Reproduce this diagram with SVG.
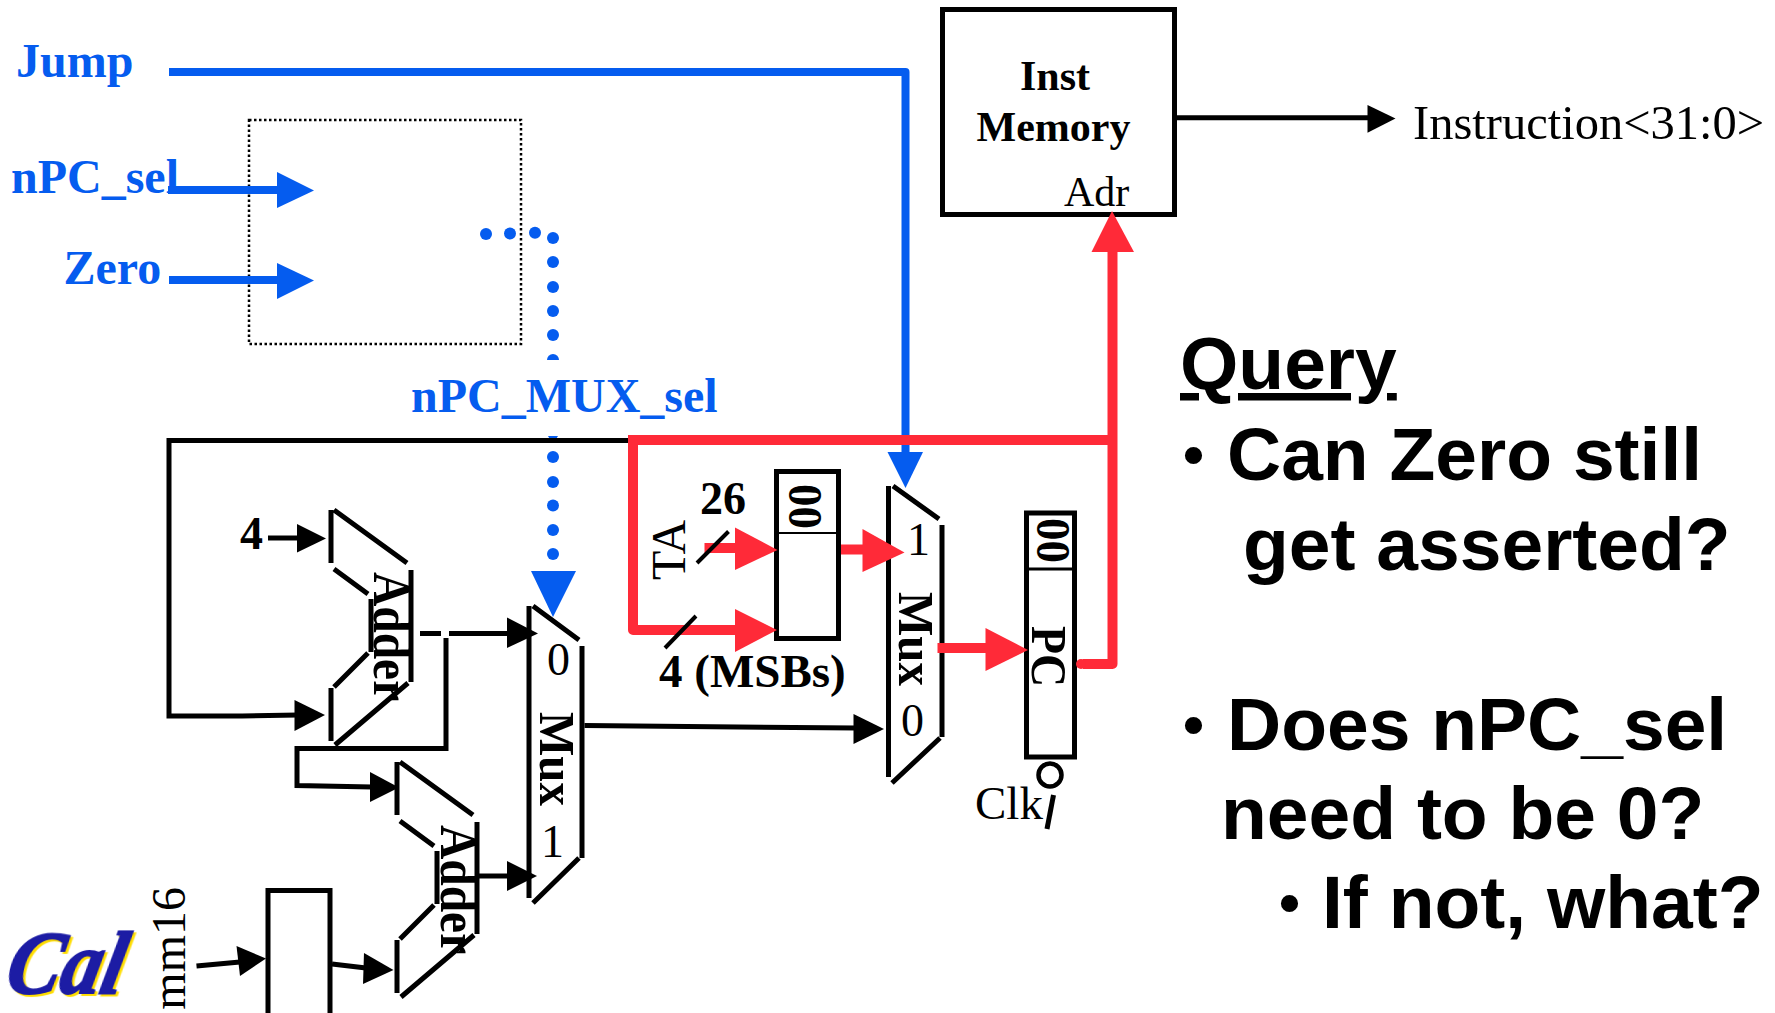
<svg xmlns="http://www.w3.org/2000/svg" width="1775" height="1013" viewBox="0 0 1775 1013">
<style>
text{font-family:"Liberation Serif",serif;fill:#000}
.b{font-weight:700}
.s{font-family:"Liberation Sans",Arial,sans-serif;font-weight:700;font-size:75px}
.pt{font-size:60px}
.blue{fill:#055cef;font-weight:700;font-size:48px}
.n46{font-size:46px}.n47{font-size:47px}.b45{font-weight:700;font-size:45px}.add{font-weight:700;font-size:47.500px}.b42{font-weight:700;font-size:42px}
.w{fill:none;stroke:#000;stroke-width:5}
.t{fill:none;stroke:#000;stroke-width:4}
.bl{fill:none;stroke:#055cef;stroke-width:8;stroke-linejoin:round}
.r{fill:none;stroke:#ff2a38;stroke-width:10;stroke-linejoin:round}
.dots circle{fill:#055cef}
.fb{fill:#055cef}.fr{fill:#ff2a38}.fk{fill:#000}
</style>
<defs>
<path id="adder-shape" class="w" d="M331 510V563M334 510L407 563M411 570V682M334 569L368 594M371 599V652M368 653L334 687M331 688V741M408 683L335 745"/>
</defs>
<g id="control-box"><rect x="249" y="120" width="272" height="224" fill="none" stroke="#000" stroke-width="2.5" stroke-dasharray="2.5 2.5"/></g>
<g id="inst-memory">
<rect x="942.5" y="9.5" width="232" height="205" fill="none" stroke="#000" stroke-width="5"/>
<text class="b42" x="1020" y="90">Inst</text>
<text class="b42" x="976.500" y="141">Memory</text>
<text x="1064" y="206" font-size="42">Adr</text>
</g>
<g id="adder-top">
<use href="#adder-shape"/>
<text class="add" transform="translate(374 572) rotate(90) scale(1 1.1)">Adder</text>
</g>
<g id="adder-bottom">
<use href="#adder-shape" x="66" y="252"/>
<text class="add" transform="translate(441 825) rotate(90) scale(1 1.1)">Adder</text>
</g>
<g id="mux-left">
<path class="w" d="M529 606V898M533 606L579 640M582 646V858M579 858L533 903"/>
<text x="547" y="675" class="n46">0</text>
<text class="b" font-size="47" transform="translate(540 712) rotate(90) scale(1 1.1)">Mux</text>
<text x="541" y="857" class="n46">1</text>
</g>
<g id="mux-right">
<path class="w" d="M888.5 486V777M893 486L939 519M942 525V737M940 738L892 783"/>
<text x="907" y="555" class="n46">1</text>
<text class="b" font-size="47" transform="translate(899 592) rotate(90) scale(1 1.1)">Mux</text>
<text x="901" y="736" class="n46">0</text>
</g>
<g id="concat">
<rect x="776.5" y="471.5" width="62" height="167" fill="none" stroke="#000" stroke-width="5"/>
<path d="M776 533H839" stroke="#000" stroke-width="2"/>
<text class="b45" transform="translate(789 484) rotate(90) scale(1 1.1)">00</text>
</g>
<g id="pc">
<rect x="1026.5" y="513" width="48" height="244" fill="none" stroke="#000" stroke-width="5"/>
<path d="M1027 569H1074" stroke="#000" stroke-width="3"/>
<text class="b45" transform="translate(1037 518) rotate(90) scale(1 1.1)">00</text>
<text class="b" font-size="46" transform="translate(1032 626) rotate(90) scale(1 1.1)">PC</text>
<circle cx="1050" cy="775" r="11.5" fill="none" stroke="#000" stroke-width="4.5"/>
<text x="975" y="819" class="n47">Clk</text>
</g>
<g id="sign-extend"><path class="w" d="M268 1013V890.5H330V1013"/></g>
<g id="connectors">
<path class="bl" d="M169 72H905.5V460"/>
<path class="fb" d="M887.5 452H923L905.5 488Z"/>
<path class="bl" d="M168 190H280"/><path class="fb" d="M277 172L314 190.500L277 208Z"/>
<path class="bl" d="M169 280H280"/><path class="fb" d="M277 263L314 280.500L277 299Z"/>
<g class="dots">
<circle cx="486" cy="234" r="6"/><circle cx="510" cy="233.500" r="6"/><circle cx="535" cy="232.700" r="6"/>
<circle cx="553" cy="238" r="6"/><circle cx="553" cy="262" r="6"/><circle cx="553" cy="287" r="6"/><circle cx="553" cy="311" r="6"/><circle cx="553" cy="335" r="6"/><circle cx="553" cy="360" r="6"/>
<circle cx="553" cy="433" r="6"/><circle cx="553" cy="457" r="6"/><circle cx="553" cy="482" r="6"/><circle cx="553" cy="505.500" r="6"/><circle cx="553" cy="530" r="6"/><circle cx="553" cy="554" r="6"/>
</g>
<rect x="405" y="360" width="320" height="76" fill="#fff"/>
<path class="fb" d="M531 571H576L553 617Z"/>
<path class="w" d="M1116 440.500H169V716H242L298 715"/>
<path class="fk" d="M294.500 700L325 715L294.500 731Z"/>
<path class="w" d="M268 538H300"/><path class="fk" d="M297 524L326 538.500L297 552.500Z"/>
<path class="w" d="M420 633.500H441M449 633.500H510M446 638V748.500H297V785.500L372 787"/>
<path class="fk" d="M507 617.500L538 633.500L507 648Z"/>
<path class="fk" d="M370 772L399 787.500L370 802Z"/>
<path class="w" d="M479 876H510"/>
<path class="fk" d="M507 861L537 876L507 891Z"/>
<path class="w" d="M196.500 966L240 962"/><path class="fk" d="M236.500 946L266 958.500L240 976Z"/>
<path class="w" d="M332 964L366 968"/><path class="fk" d="M364 953L393.500 970L363 984Z"/>
<path class="w" d="M584.500 725.500L856 728"/><path class="fk" d="M853.500 714L884 729L853.500 744Z"/>
<path class="w" d="M1177 117.700H1370"/><path class="fk" d="M1367.500 105L1395.500 118.500L1367.500 132.700Z"/>
<path class="r" d="M633 440H1112.500M1112.500 248V664H1083"/>
<circle class="fr" cx="1081" cy="664" r="5"/>
<path class="r" d="M633 440V630H738" stroke-linecap="square"/>
<path class="r" d="M704.500 548H738M841 549.500H866M937.500 648H990"/>
<path class="fr" d="M1091.500 252H1134L1112 211Z"/>
<path class="fr" d="M735 527.500L777.500 550L735 570Z"/>
<path class="fr" d="M735 609L777 630L735 652Z"/>
<path class="fr" d="M862.500 529L904.500 552.500L862.500 572Z"/>
<path class="fr" d="M985.500 628L1028 650L985.500 671Z"/>
<path class="t" d="M728.500 531.500L697 563M696 616L665 648"/>
<path class="w" d="M1053.500 795L1047 829"/>
</g>
<g id="labels">
<text class="blue" x="16" y="77">Jump</text>
<text class="blue" x="11" y="193">nPC_sel</text>
<text class="blue" x="63.500" y="284">Zero</text>
<text class="blue" x="411" y="412">nPC_MUX_sel</text>
<text x="1413" y="139" font-size="48.500">Instruction&lt;31:0&gt;</text>
<text transform="translate(185 887) rotate(-90)" text-anchor="end" style="font-size:48px">mm16</text>
<text transform="translate(685 580) rotate(-90)" style="font-size:48px">TA</text>
<text class="b n46" x="700" y="514">26</text>
<text class="b n47" x="659" y="687">4 (MSBs)</text>
<text class="b n46" x="240" y="549">4</text>
</g>
<g id="query">
<text class="s" x="1180" y="389" text-decoration="underline">Query</text>
<text class="s"><tspan class="pt" x="1183" y="475">•</tspan><tspan x="1227" y="480">Can Zero still</tspan></text>
<text class="s" x="1243" y="570">get asserted?</text>
<text class="s"><tspan class="pt" x="1183" y="744.500">•</tspan><tspan x="1227" y="749.500">Does nPC_sel</tspan></text>
<text class="s" x="1221" y="838.500">need to be 0?</text>
<text class="s"><tspan class="pt" x="1279" y="923">•</tspan><tspan x="1322" y="928">If not, what?</tspan></text>
</g>
<g id="cal-logo">
<text transform="translate(3 993) skewX(-12) scale(.9 1)" font-size="90" font-style="italic" font-weight="700" style="fill:#1c1ca4;stroke:#1c1ca4;stroke-width:2;filter:drop-shadow(3px 2px 0 #ffdd00)">Cal</text>
</g>
</svg>
